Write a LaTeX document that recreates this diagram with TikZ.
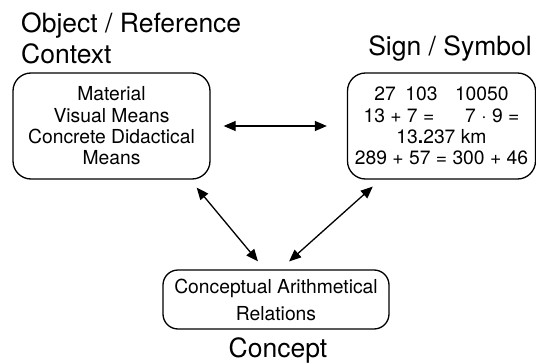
\documentclass[tikz,border=0pt]{standalone}
\usepackage{fontspec}
\setmainfont{TeX Gyre Heros}
\usetikzlibrary{arrows.meta}
\begin{document}
\begin{tikzpicture}[x=1pt,y=-1pt,
  box/.style={draw,line width=1.3pt,rounded corners=18pt,align=center,
    inner sep=0pt,font=\fontsize{19.3}{21.3}\selectfont},
  heading/.style={inner sep=0pt,font=\fontsize{26.5}{31}\selectfont},
  biarrow/.style={line width=1.3pt,{Triangle[length=12pt,width=10pt]}-{Triangle[length=12pt,width=10pt]}}]
\useasboundingbox (0,0) rectangle (536,364);
% three corners of the triangle
\node[box,minimum width=197pt,minimum height=106pt] (obj) at (111.5,126)
  {Material\\Visual Means\\Concrete Didactical\\Means};
\node[box,minimum width=188pt,minimum height=106pt] (sign) at (441.5,126)
  {27\hspace{0.5em}103\hspace{0.9em}10050\\
   13 + 7 =\hspace{1.6em}7 · 9 =\\
   13{\bfseries .}237 km\\
   289 + 57 = 300 + 46};
\node[box,rounded corners=15pt,minimum width=226pt,minimum height=59pt,
  font=\fontsize{19.3}{27}\selectfont] (conc) at (276,299.5)
  {Conceptual Arithmetical\\Relations};
% headings (a multi-line node sits on the baseline of its last line)
\node[heading,anchor=base west,align=left] (objtitle) at (21,63)
  {Object / Reference\\Context};
\node[heading,anchor=base] (signtitle) at (450,55) {Sign / Symbol};
\node[heading,anchor=base] (conctitle) at (278,357) {Concept};
% relations
\draw[biarrow,shorten <=13pt,shorten >=20pt] (obj.east) -- (sign.west);
\draw[biarrow,shorten <=10.4pt,shorten >=10.4pt]
  ([xshift=-20.6pt]obj.south east) -- ([xshift=-11.4pt]conc.north);
\draw[biarrow,shorten <=10.4pt,shorten >=11.9pt]
  ([xshift=33.7pt]sign.south west) -- ([xshift=4.2pt]conc.north);
\end{tikzpicture}
\end{document}
